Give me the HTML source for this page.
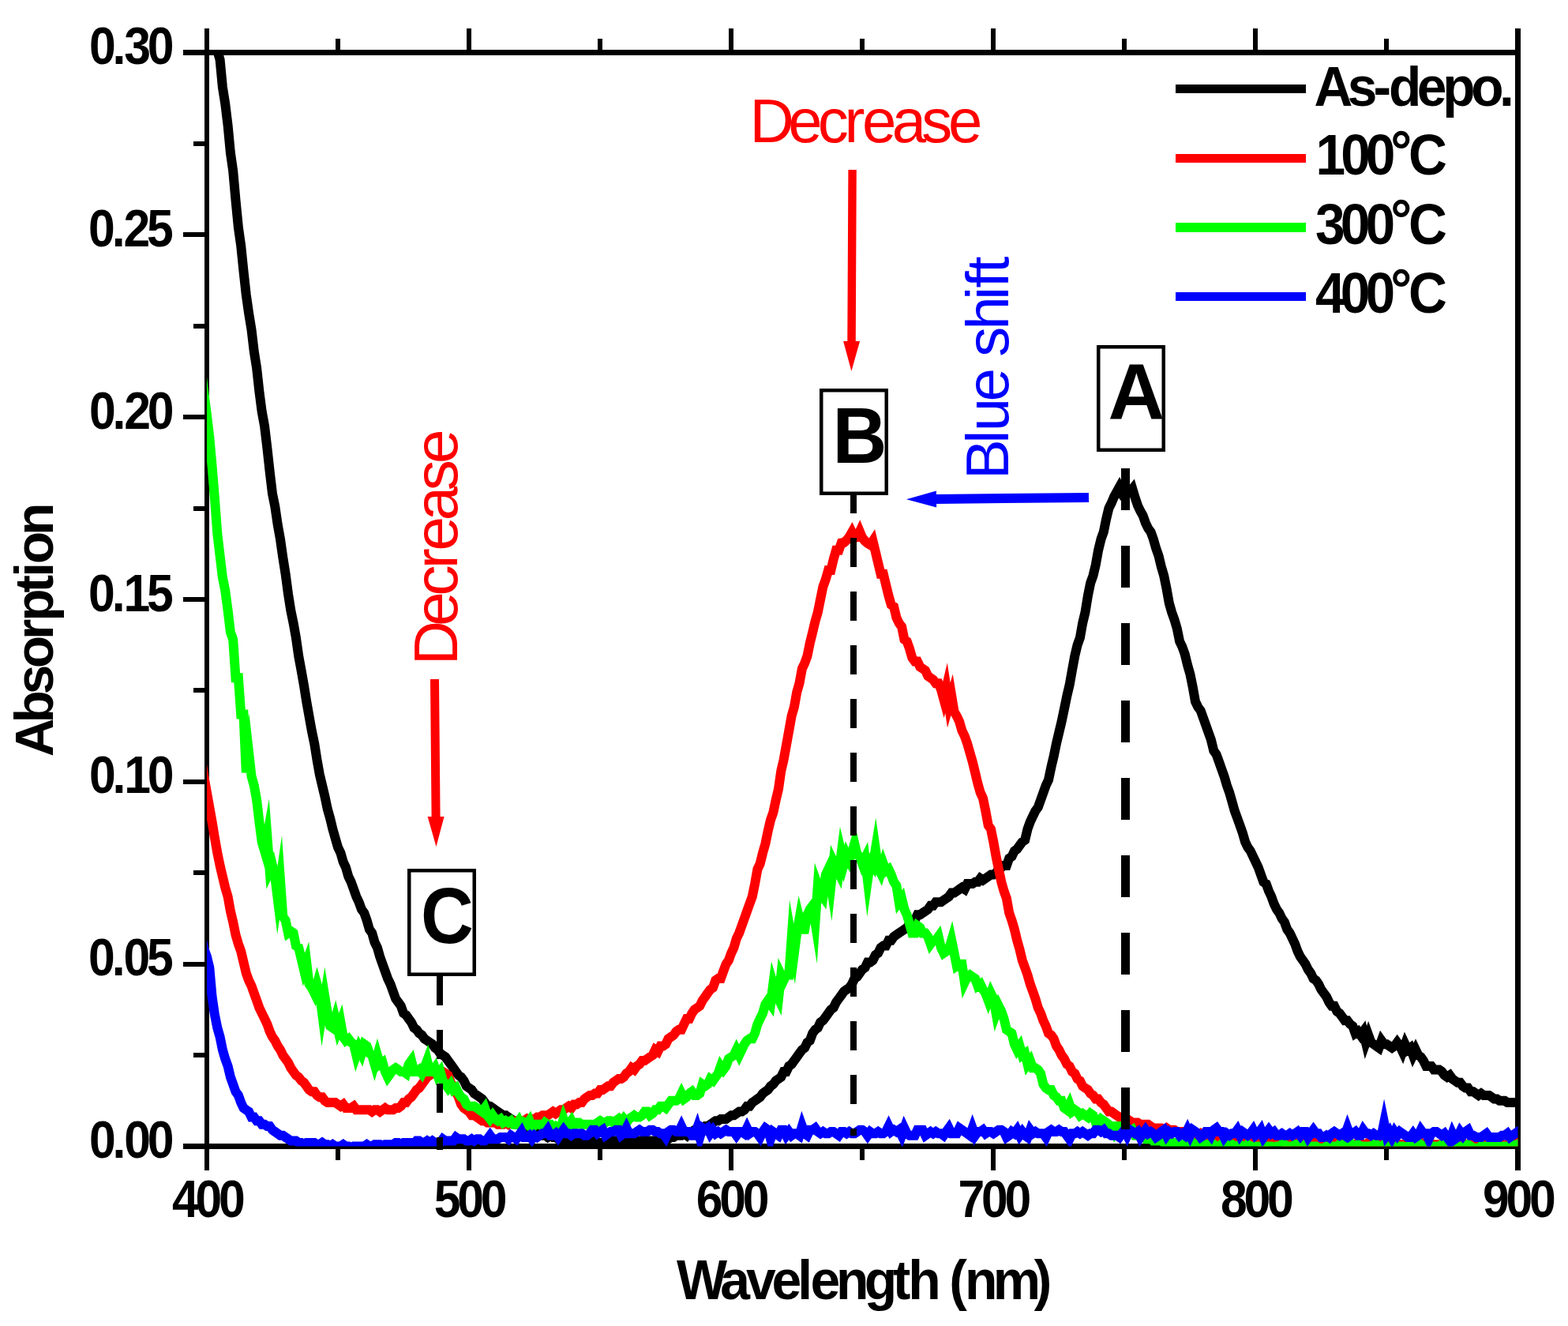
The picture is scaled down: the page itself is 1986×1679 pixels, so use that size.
<!DOCTYPE html>
<html lang="en">
<head>
<meta charset="utf-8">
<title>Absorption spectra</title>
<style>
html,body{margin:0;padding:0;background:#fff;}
body{width:1986px;height:1679px;overflow:hidden;}
svg{display:block;}
svg text{font-family:"Liberation Sans","Arial",sans-serif;white-space:pre;}
</style>
</head>
<body>
<svg width="1986" height="1679" viewBox="0 0 1986 1679">
<rect width="1986" height="1679" fill="#fff"/>
<g fill="#000" shape-rendering="crispEdges">
<rect x="259" y="36" width="6" height="1446"/>
<rect x="1919" y="36" width="7" height="1446"/>
<rect x="232" y="63" width="1694" height="7"/>
<rect x="232" y="1448" width="1694" height="7"/>
<rect x="425" y="49" width="6" height="14"/>
<rect x="425" y="1455" width="6" height="14"/>
<rect x="591" y="36" width="6" height="27"/>
<rect x="591" y="1455" width="6" height="27"/>
<rect x="757" y="49" width="6" height="14"/>
<rect x="757" y="1455" width="6" height="14"/>
<rect x="923" y="36" width="6" height="27"/>
<rect x="923" y="1455" width="6" height="27"/>
<rect x="1089" y="49" width="6" height="14"/>
<rect x="1089" y="1455" width="6" height="14"/>
<rect x="1255" y="36" width="6" height="27"/>
<rect x="1255" y="1455" width="6" height="27"/>
<rect x="1421" y="49" width="6" height="14"/>
<rect x="1421" y="1455" width="6" height="14"/>
<rect x="1587" y="36" width="6" height="27"/>
<rect x="1587" y="1455" width="6" height="27"/>
<rect x="1753" y="49" width="6" height="14"/>
<rect x="1753" y="1455" width="6" height="14"/>
<rect x="245" y="1333" width="14" height="6"/>
<rect x="232" y="1218" width="27" height="6"/>
<rect x="245" y="1102" width="14" height="6"/>
<rect x="232" y="987" width="27" height="6"/>
<rect x="245" y="871" width="14" height="6"/>
<rect x="232" y="756" width="27" height="6"/>
<rect x="245" y="641" width="14" height="6"/>
<rect x="232" y="525" width="27" height="6"/>
<rect x="245" y="410" width="14" height="6"/>
<rect x="232" y="294" width="27" height="6"/>
<rect x="245" y="179" width="14" height="6"/>
</g>
<clipPath id="plotclip"><rect x="262" y="66.5" width="1660.5" height="1385"/></clipPath>
<g clip-path="url(#plotclip)" fill="none" stroke-linejoin="miter" stroke-miterlimit="10" stroke-linecap="butt">
<path stroke="#000000" stroke-width="12" d="M248.7 -104.3 L252.0 -74.3 L255.4 -62.8 L258.7 -42.0 L262.0 -21.2 L265.3 -2.7 L268.6 15.7 L272.0 43.4 L275.3 64.2 L278.6 75.7 L281.9 110.4 L285.2 131.1 L288.6 158.8 L291.9 193.5 L295.2 216.5 L298.5 253.5 L301.9 288.1 L305.2 311.2 L308.5 343.5 L311.8 373.5 L315.1 396.6 L318.5 417.4 L321.8 445.1 L325.1 465.8 L328.4 495.9 L331.7 521.2 L335.1 539.7 L338.4 567.4 L341.7 597.4 L345.0 625.1 L348.3 641.3 L351.7 664.4 L355.0 682.8 L358.3 705.9 L361.6 726.7 L365.0 752.1 L368.3 772.9 L371.6 789.0 L374.9 807.5 L378.2 830.6 L381.6 849.0 L384.9 867.5 L388.2 888.3 L391.5 906.7 L394.8 925.2 L398.2 941.4 L401.5 962.1 L404.8 980.6 L408.1 994.5 L411.4 1008.3 L414.8 1024.5 L418.1 1036.0 L421.4 1049.8 L424.7 1061.4 L428.0 1072.9 L431.4 1079.9 L434.7 1091.4 L438.0 1098.3 L441.3 1109.9 L444.7 1116.8 L448.0 1126.0 L451.3 1135.3 L454.6 1142.2 L457.9 1151.4 L461.3 1156.0 L464.6 1165.3 L467.9 1176.8 L471.2 1181.4 L474.5 1193.0 L477.9 1199.9 L481.2 1211.4 L484.5 1220.7 L487.8 1229.9 L491.1 1239.1 L494.5 1246.1 L497.8 1255.3 L501.1 1264.5 L504.4 1269.1 L507.8 1273.8 L511.1 1283.0 L514.4 1285.3 L517.7 1289.9 L521.0 1294.5 L524.4 1301.5 L527.7 1303.8 L531.0 1308.4 L534.3 1310.7 L537.6 1315.3 L541.0 1317.6 L544.3 1319.9 L547.6 1322.2 L550.9 1326.8 L554.2 1329.2 L557.6 1333.8 L560.9 1336.1 L564.2 1338.4 L567.5 1343.0 L570.9 1347.6 L574.2 1352.2 L577.5 1356.9 L580.8 1361.5 L584.1 1363.8 L587.5 1368.4 L590.8 1375.3 L594.1 1377.6 L597.4 1379.9 L600.7 1384.6 L604.1 1386.9 L607.4 1389.2 L610.7 1391.5 L614.0 1396.1 L617.3 1400.7 L620.7 1400.7 L624.0 1403.0 L627.3 1405.3 L630.6 1407.6 L634.0 1410.0 L637.3 1412.3 L640.6 1412.3 L643.9 1414.6 L647.2 1416.9 L650.6 1419.2 L653.9 1423.8 L657.2 1423.8 L660.5 1426.1 L663.8 1428.4 L667.2 1428.4 L670.5 1430.7 L673.8 1430.7 L677.1 1433.0 L680.4 1435.3 L683.8 1435.3 L687.1 1437.7 L690.4 1437.7 L693.7 1440.0 L697.1 1437.7 L700.4 1440.0 L703.7 1440.0 L707.0 1442.3 L710.3 1442.3 L713.7 1442.3 L717.0 1442.3 L720.3 1442.3 L723.6 1442.3 L726.9 1444.6 L730.3 1444.6 L733.6 1444.6 L736.9 1444.6 L740.2 1444.6 L743.5 1444.6 L746.9 1444.6 L750.2 1446.9 L753.5 1444.6 L756.8 1446.9 L760.1 1446.9 L763.5 1446.9 L766.8 1444.6 L770.1 1444.6 L773.4 1444.6 L776.8 1444.6 L780.1 1444.6 L783.4 1444.6 L786.7 1444.6 L790.0 1444.6 L793.4 1444.6 L796.7 1444.6 L800.0 1444.6 L803.3 1444.6 L806.6 1446.9 L810.0 1444.6 L813.3 1444.6 L816.6 1444.6 L819.9 1444.6 L823.2 1444.6 L826.6 1444.6 L829.9 1444.6 L833.2 1442.3 L836.5 1442.3 L839.9 1442.3 L843.2 1442.3 L846.5 1442.3 L849.8 1440.0 L853.1 1440.0 L856.5 1437.7 L859.8 1437.7 L863.1 1437.7 L866.4 1435.3 L869.7 1437.7 L873.1 1433.0 L876.4 1433.0 L879.7 1430.7 L883.0 1430.7 L886.3 1428.4 L889.7 1428.4 L893.0 1426.1 L896.3 1426.1 L899.6 1423.8 L903.0 1421.5 L906.3 1419.2 L909.6 1419.2 L912.9 1416.9 L916.2 1416.9 L919.6 1416.9 L922.9 1414.6 L926.2 1412.3 L929.5 1412.3 L932.8 1410.0 L936.2 1407.6 L939.5 1407.6 L942.8 1405.3 L946.1 1400.7 L949.4 1400.7 L952.8 1396.1 L956.1 1393.8 L959.4 1391.5 L962.7 1389.2 L966.1 1384.6 L969.4 1382.2 L972.7 1379.9 L976.0 1375.3 L979.3 1373.0 L982.7 1368.4 L986.0 1366.1 L989.3 1363.8 L992.6 1356.9 L995.9 1356.9 L999.3 1349.9 L1002.6 1347.6 L1005.9 1343.0 L1009.2 1338.4 L1012.5 1333.8 L1015.9 1329.2 L1019.2 1326.8 L1022.5 1319.9 L1025.8 1317.6 L1029.2 1308.4 L1032.5 1303.8 L1035.8 1301.5 L1039.1 1294.5 L1042.4 1292.2 L1045.8 1287.6 L1049.1 1283.0 L1052.4 1278.4 L1055.7 1276.1 L1059.0 1269.1 L1062.4 1264.5 L1065.7 1259.9 L1069.0 1255.3 L1072.3 1253.0 L1075.6 1250.7 L1079.0 1246.1 L1082.3 1239.1 L1085.6 1236.8 L1088.9 1232.2 L1092.2 1227.6 L1095.6 1225.3 L1098.9 1218.4 L1102.2 1218.4 L1105.5 1216.0 L1108.9 1209.1 L1112.2 1206.8 L1115.5 1199.9 L1118.8 1197.6 L1122.1 1197.6 L1125.5 1190.7 L1128.8 1190.7 L1132.1 1186.0 L1135.4 1183.7 L1138.7 1181.4 L1142.1 1179.1 L1145.4 1176.8 L1148.7 1174.5 L1152.0 1169.9 L1155.3 1169.9 L1158.7 1165.3 L1162.0 1158.3 L1165.3 1158.3 L1168.6 1156.0 L1172.0 1153.7 L1175.3 1151.4 L1178.6 1146.8 L1181.9 1146.8 L1185.2 1142.2 L1188.6 1142.2 L1191.9 1142.2 L1195.2 1139.9 L1198.5 1137.6 L1201.8 1135.3 L1205.2 1130.6 L1208.5 1130.6 L1211.8 1128.3 L1215.1 1126.0 L1218.4 1123.7 L1221.8 1126.0 L1225.1 1119.1 L1228.4 1119.1 L1231.7 1119.1 L1235.1 1116.8 L1238.4 1116.8 L1241.7 1112.2 L1245.0 1114.5 L1248.3 1112.2 L1251.7 1109.9 L1255.0 1107.6 L1258.3 1107.6 L1261.6 1105.2 L1264.9 1100.6 L1268.3 1098.3 L1271.6 1096.0 L1274.9 1096.0 L1278.2 1086.8 L1281.5 1084.5 L1284.9 1077.5 L1288.2 1075.2 L1291.5 1070.6 L1294.8 1066.0 L1298.2 1063.7 L1301.5 1049.8 L1304.8 1040.6 L1308.1 1033.7 L1311.4 1026.8 L1314.8 1022.2 L1318.1 1012.9 L1321.4 1003.7 L1324.7 994.5 L1328.0 987.5 L1331.4 971.4 L1334.7 957.5 L1338.0 941.4 L1341.3 927.5 L1344.6 913.7 L1348.0 897.5 L1351.3 881.3 L1354.6 867.5 L1357.9 849.0 L1361.3 830.6 L1364.6 816.7 L1367.9 807.5 L1371.2 789.0 L1374.5 775.2 L1377.9 754.4 L1381.2 738.2 L1384.5 729.0 L1387.8 715.1 L1391.1 696.7 L1394.5 682.8 L1397.8 673.6 L1401.1 657.4 L1404.4 643.6 L1407.7 637.0 L1411.1 629.0 L1414.4 623.0 L1417.7 617.0 L1421.0 624.0 L1424.3 621.0 L1427.7 625.0 L1431.0 623.0 L1434.3 619.0 L1437.6 630.0 L1441.0 640.0 L1444.3 647.0 L1447.6 652.8 L1450.9 662.1 L1454.2 669.0 L1457.6 673.6 L1460.9 682.8 L1464.2 694.4 L1467.5 703.6 L1470.8 717.5 L1474.2 729.0 L1477.5 745.2 L1480.8 763.6 L1484.1 775.2 L1487.4 784.4 L1490.8 795.9 L1494.1 812.1 L1497.4 819.0 L1500.7 828.2 L1504.1 842.1 L1507.4 853.6 L1510.7 869.8 L1514.0 888.3 L1517.3 895.2 L1520.7 899.8 L1524.0 909.0 L1527.3 918.3 L1530.6 927.5 L1533.9 936.7 L1537.3 950.6 L1540.6 955.2 L1543.9 964.4 L1547.2 973.7 L1550.5 982.9 L1553.9 994.5 L1557.2 1003.7 L1560.5 1015.2 L1563.8 1026.8 L1567.2 1036.0 L1570.5 1045.2 L1573.8 1054.5 L1577.1 1066.0 L1580.4 1072.9 L1583.8 1077.5 L1587.1 1084.5 L1590.4 1091.4 L1593.7 1098.3 L1597.0 1107.6 L1600.4 1116.8 L1603.7 1119.1 L1607.0 1128.3 L1610.3 1135.3 L1613.6 1144.5 L1617.0 1151.4 L1620.3 1156.0 L1623.6 1163.0 L1626.9 1167.6 L1630.3 1176.8 L1633.6 1181.4 L1636.9 1188.3 L1640.2 1195.3 L1643.5 1204.5 L1646.9 1211.4 L1650.2 1216.0 L1653.5 1220.7 L1656.8 1227.6 L1660.1 1232.2 L1663.5 1239.1 L1666.8 1241.4 L1670.1 1246.1 L1673.4 1253.0 L1676.7 1257.6 L1680.1 1262.2 L1683.4 1269.1 L1686.7 1273.8 L1690.0 1273.8 L1693.4 1280.7 L1696.7 1283.0 L1700.0 1287.6 L1703.3 1292.2 L1706.6 1292.2 L1710.0 1296.8 L1713.3 1299.2 L1716.6 1308.4 L1719.9 1306.1 L1723.2 1310.7 L1726.6 1306.1 L1729.9 1319.9 L1733.2 1310.7 L1736.5 1319.9 L1739.8 1322.2 L1743.2 1324.5 L1746.5 1326.8 L1749.8 1317.6 L1753.1 1322.2 L1756.4 1322.2 L1759.8 1324.5 L1763.1 1326.8 L1766.4 1324.5 L1769.7 1319.9 L1773.1 1324.5 L1776.4 1331.5 L1779.7 1322.2 L1783.0 1329.2 L1786.3 1326.8 L1789.7 1336.1 L1793.0 1329.2 L1796.3 1336.1 L1799.6 1338.4 L1802.9 1343.0 L1806.3 1349.9 L1809.6 1349.9 L1812.9 1349.9 L1816.2 1354.5 L1819.5 1354.5 L1822.9 1354.5 L1826.2 1356.9 L1829.5 1361.5 L1832.8 1363.8 L1836.2 1361.5 L1839.5 1366.1 L1842.8 1368.4 L1846.1 1370.7 L1849.4 1370.7 L1852.8 1375.3 L1856.1 1377.6 L1859.4 1377.6 L1862.7 1382.2 L1866.0 1382.2 L1869.4 1384.6 L1872.7 1386.9 L1876.0 1384.6 L1879.3 1386.9 L1882.6 1386.9 L1886.0 1386.9 L1889.3 1389.2 L1892.6 1391.5 L1895.9 1391.5 L1899.3 1393.8 L1902.6 1393.8 L1905.9 1393.8 L1909.2 1396.1 L1912.5 1396.1 L1915.9 1396.1 L1919.2 1396.1 L1922.5 1396.1 L1925.8 1398.4 L1929.1 1398.4"/>
<path stroke="#ff0000" stroke-width="12" d="M248.7 927.5 L252.0 946.0 L255.4 964.4 L258.7 985.2 L262.0 1003.7 L265.3 1022.2 L268.6 1040.6 L272.0 1061.4 L275.3 1079.9 L278.6 1096.0 L281.9 1109.9 L285.2 1123.7 L288.6 1135.3 L291.9 1153.7 L295.2 1167.6 L298.5 1183.7 L301.9 1195.3 L305.2 1204.5 L308.5 1218.4 L311.8 1232.2 L315.1 1241.4 L318.5 1248.4 L321.8 1257.6 L325.1 1266.8 L328.4 1276.1 L331.7 1283.0 L335.1 1289.9 L338.4 1296.8 L341.7 1306.1 L345.0 1313.0 L348.3 1317.6 L351.7 1324.5 L355.0 1329.2 L358.3 1336.1 L361.6 1340.7 L365.0 1345.3 L368.3 1352.2 L371.6 1356.9 L374.9 1361.5 L378.2 1363.8 L381.6 1368.4 L384.9 1370.7 L388.2 1375.3 L391.5 1379.9 L394.8 1382.2 L398.2 1382.2 L401.5 1386.9 L404.8 1389.2 L408.1 1389.2 L411.4 1393.8 L414.8 1396.1 L418.1 1396.1 L421.4 1396.1 L424.7 1396.1 L428.0 1398.4 L431.4 1400.7 L434.7 1398.4 L438.0 1403.0 L441.3 1403.0 L444.7 1403.0 L448.0 1400.7 L451.3 1405.3 L454.6 1405.3 L457.9 1405.3 L461.3 1405.3 L464.6 1405.3 L467.9 1405.3 L471.2 1407.6 L474.5 1405.3 L477.9 1405.3 L481.2 1407.6 L484.5 1405.3 L487.8 1403.0 L491.1 1405.3 L494.5 1405.3 L497.8 1405.3 L501.1 1403.0 L504.4 1403.0 L507.8 1400.7 L511.1 1396.1 L514.4 1396.1 L517.7 1391.5 L521.0 1389.2 L524.4 1384.6 L527.7 1379.9 L531.0 1377.6 L534.3 1373.0 L537.6 1368.4 L541.0 1363.8 L544.3 1361.5 L547.6 1359.2 L550.9 1356.9 L554.2 1356.9 L557.6 1356.9 L560.9 1356.9 L564.2 1359.2 L567.5 1361.5 L570.9 1370.7 L574.2 1377.6 L577.5 1382.2 L580.8 1389.2 L584.1 1398.4 L587.5 1403.0 L590.8 1405.3 L594.1 1407.6 L597.4 1412.3 L600.7 1412.3 L604.1 1414.6 L607.4 1416.9 L610.7 1419.2 L614.0 1419.2 L617.3 1421.5 L620.7 1421.5 L624.0 1421.5 L627.3 1421.5 L630.6 1423.8 L634.0 1423.8 L637.3 1423.8 L640.6 1421.5 L643.9 1423.8 L647.2 1421.5 L650.6 1421.5 L653.9 1419.2 L657.2 1419.2 L660.5 1419.2 L663.8 1419.2 L667.2 1416.9 L670.5 1419.2 L673.8 1416.9 L677.1 1416.9 L680.4 1414.6 L683.8 1414.6 L687.1 1412.3 L690.4 1412.3 L693.7 1412.3 L697.1 1410.0 L700.4 1407.6 L703.7 1410.0 L707.0 1407.6 L710.3 1405.3 L713.7 1405.3 L717.0 1403.0 L720.3 1400.7 L723.6 1403.0 L726.9 1398.4 L730.3 1398.4 L733.6 1396.1 L736.9 1396.1 L740.2 1391.5 L743.5 1389.2 L746.9 1386.9 L750.2 1386.9 L753.5 1384.6 L756.8 1384.6 L760.1 1379.9 L763.5 1379.9 L766.8 1377.6 L770.1 1375.3 L773.4 1375.3 L776.8 1370.7 L780.1 1368.4 L783.4 1366.1 L786.7 1366.1 L790.0 1363.8 L793.4 1359.2 L796.7 1356.9 L800.0 1352.2 L803.3 1354.5 L806.6 1349.9 L810.0 1347.6 L813.3 1343.0 L816.6 1343.0 L819.9 1340.7 L823.2 1338.4 L826.6 1336.1 L829.9 1329.2 L833.2 1331.5 L836.5 1324.5 L839.9 1324.5 L843.2 1322.2 L846.5 1315.3 L849.8 1313.0 L853.1 1310.7 L856.5 1306.1 L859.8 1303.8 L863.1 1303.8 L866.4 1296.8 L869.7 1289.9 L873.1 1289.9 L876.4 1283.0 L879.7 1278.4 L883.0 1276.1 L886.3 1273.8 L889.7 1266.8 L893.0 1262.2 L896.3 1257.6 L899.6 1253.0 L903.0 1250.7 L906.3 1241.4 L909.6 1239.1 L912.9 1239.1 L916.2 1229.9 L919.6 1220.7 L922.9 1216.0 L926.2 1206.8 L929.5 1199.9 L932.8 1188.3 L936.2 1181.4 L939.5 1172.2 L942.8 1163.0 L946.1 1153.7 L949.4 1144.5 L952.8 1135.3 L956.1 1119.1 L959.4 1100.6 L962.7 1093.7 L966.1 1079.9 L969.4 1068.3 L972.7 1052.2 L976.0 1038.3 L979.3 1029.1 L982.7 1012.9 L986.0 999.1 L989.3 976.0 L992.6 962.1 L995.9 943.7 L999.3 925.2 L1002.6 906.7 L1005.9 895.2 L1009.2 876.7 L1012.5 865.2 L1015.9 846.7 L1019.2 839.8 L1022.5 830.6 L1025.8 814.4 L1029.2 800.6 L1032.5 786.7 L1035.8 775.2 L1039.1 759.0 L1042.4 742.8 L1045.8 733.6 L1049.1 722.1 L1052.4 722.1 L1055.7 708.2 L1059.0 696.7 L1062.4 696.7 L1065.7 687.4 L1069.0 687.0 L1072.3 684.0 L1075.6 680.0 L1079.0 674.0 L1082.3 681.0 L1085.6 680.0 L1088.9 673.0 L1092.2 681.0 L1095.6 685.0 L1098.9 688.0 L1102.2 690.0 L1105.5 685.0 L1108.9 699.0 L1112.2 712.8 L1115.5 726.7 L1118.8 726.7 L1122.1 740.5 L1125.5 754.4 L1128.8 765.9 L1132.1 768.2 L1135.4 782.1 L1138.7 789.0 L1142.1 793.6 L1145.4 809.8 L1148.7 812.1 L1152.0 821.3 L1155.3 832.9 L1158.7 837.5 L1162.0 837.5 L1165.3 844.4 L1168.6 846.7 L1172.0 849.0 L1175.3 856.0 L1178.6 858.3 L1181.9 860.6 L1185.2 865.2 L1188.6 865.2 L1191.9 873.0 L1195.2 885.0 L1198.5 871.0 L1201.8 893.0 L1205.2 881.0 L1208.5 901.0 L1211.8 906.7 L1215.1 913.7 L1218.4 925.2 L1221.8 932.1 L1225.1 941.4 L1228.4 952.9 L1231.7 964.4 L1235.1 978.3 L1238.4 992.1 L1241.7 1003.7 L1245.0 1010.6 L1248.3 1026.8 L1251.7 1045.2 L1255.0 1049.8 L1258.3 1066.0 L1261.6 1084.5 L1264.9 1100.6 L1268.3 1116.8 L1271.6 1128.3 L1274.9 1137.6 L1278.2 1156.0 L1281.5 1165.3 L1284.9 1176.8 L1288.2 1190.7 L1291.5 1202.2 L1294.8 1216.0 L1298.2 1225.3 L1301.5 1234.5 L1304.8 1246.1 L1308.1 1255.3 L1311.4 1264.5 L1314.8 1276.1 L1318.1 1283.0 L1321.4 1292.2 L1324.7 1299.2 L1328.0 1308.4 L1331.4 1310.7 L1334.7 1315.3 L1338.0 1324.5 L1341.3 1329.2 L1344.6 1336.1 L1348.0 1340.7 L1351.3 1347.6 L1354.6 1349.9 L1357.9 1356.9 L1361.3 1359.2 L1364.6 1366.1 L1367.9 1368.4 L1371.2 1375.3 L1374.5 1377.6 L1377.9 1379.9 L1381.2 1384.6 L1384.5 1386.9 L1387.8 1391.5 L1391.1 1391.5 L1394.5 1396.1 L1397.8 1398.4 L1401.1 1403.0 L1404.4 1407.6 L1407.7 1407.6 L1411.1 1410.0 L1414.4 1412.3 L1417.7 1414.6 L1421.0 1414.6 L1424.3 1416.9 L1427.7 1416.9 L1431.0 1419.2 L1434.3 1421.5 L1437.6 1421.5 L1441.0 1421.5 L1444.3 1423.8 L1447.6 1423.8 L1450.9 1423.8 L1454.2 1423.8 L1457.6 1426.1 L1460.9 1428.4 L1464.2 1428.4 L1467.5 1428.4 L1470.8 1428.4 L1474.2 1430.7 L1477.5 1428.4 L1480.8 1430.7 L1484.1 1430.7 L1487.4 1430.7 L1490.8 1433.0 L1494.1 1433.0 L1497.4 1433.0 L1500.7 1433.0 L1504.1 1435.3 L1507.4 1435.3 L1510.7 1435.3 L1514.0 1437.7 L1517.3 1437.7 L1520.7 1435.3 L1524.0 1437.7 L1527.3 1437.7 L1530.6 1440.0 L1533.9 1437.7 L1537.3 1440.0 L1540.6 1440.0 L1543.9 1442.3 L1547.2 1440.0 L1550.5 1442.3 L1553.9 1442.3 L1557.2 1442.3 L1560.5 1442.3 L1563.8 1444.6 L1567.2 1442.3 L1570.5 1444.6 L1573.8 1444.6 L1577.1 1444.6 L1580.4 1444.6 L1583.8 1444.6 L1587.1 1444.6 L1590.4 1442.3 L1593.7 1444.6 L1597.0 1446.9 L1600.4 1444.6 L1603.7 1446.9 L1607.0 1444.6 L1610.3 1444.6 L1613.6 1444.6 L1617.0 1444.6 L1620.3 1444.6 L1623.6 1444.6 L1626.9 1446.9 L1630.3 1446.9 L1633.6 1446.9 L1636.9 1444.6 L1640.2 1444.6 L1643.5 1446.9 L1646.9 1444.6 L1650.2 1446.9 L1653.5 1449.2 L1656.8 1449.2 L1660.1 1446.9 L1663.5 1444.6 L1666.8 1446.9 L1670.1 1444.6 L1673.4 1446.9 L1676.7 1449.2 L1680.1 1446.9 L1683.4 1446.9 L1686.7 1446.9 L1690.0 1446.9 L1693.4 1446.9 L1696.7 1449.2 L1700.0 1449.2 L1703.3 1446.9 L1706.6 1446.9 L1710.0 1449.2 L1713.3 1449.2 L1716.6 1449.2 L1719.9 1446.9 L1723.2 1446.9 L1726.6 1449.2 L1729.9 1449.2 L1733.2 1446.9 L1736.5 1449.2 L1739.8 1449.2 L1743.2 1449.2 L1746.5 1446.9 L1749.8 1449.2 L1753.1 1446.9 L1756.4 1449.2 L1759.8 1449.2 L1763.1 1449.2 L1766.4 1449.2 L1769.7 1449.2 L1773.1 1449.2 L1776.4 1449.2 L1779.7 1449.2 L1783.0 1449.2 L1786.3 1451.5 L1789.7 1449.2 L1793.0 1449.2 L1796.3 1449.2 L1799.6 1446.9 L1802.9 1449.2 L1806.3 1449.2 L1809.6 1449.2 L1812.9 1449.2 L1816.2 1449.2 L1819.5 1449.2 L1822.9 1449.2 L1826.2 1449.2 L1829.5 1449.2 L1832.8 1451.5 L1836.2 1449.2 L1839.5 1449.2 L1842.8 1451.5 L1846.1 1446.9 L1849.4 1449.2 L1852.8 1446.9 L1856.1 1449.2 L1859.4 1449.2 L1862.7 1446.9 L1866.0 1449.2 L1869.4 1446.9 L1872.7 1449.2 L1876.0 1449.2 L1879.3 1449.2 L1882.6 1449.2 L1886.0 1449.2 L1889.3 1446.9 L1892.6 1449.2 L1895.9 1449.2 L1899.3 1449.2 L1902.6 1449.2 L1905.9 1451.5 L1909.2 1449.2 L1912.5 1449.2 L1915.9 1446.9 L1919.2 1449.2 L1922.5 1446.9 L1925.8 1449.2 L1929.1 1449.2"/>
<path stroke="#00ff00" stroke-width="12" d="M248.7 419.7 L252.0 447.4 L255.4 472.8 L258.7 500.5 L262.0 525.9 L265.3 553.6 L268.6 590.5 L272.0 632.0 L275.3 675.9 L278.6 703.6 L281.9 731.3 L285.2 747.5 L288.6 772.9 L291.9 800.6 L295.2 809.8 L298.5 858.3 L301.9 858.3 L305.2 904.4 L308.5 904.4 L311.8 978.3 L315.1 952.9 L318.5 982.9 L321.8 994.5 L325.1 1012.9 L328.4 1040.6 L331.7 1066.0 L335.1 1077.5 L338.4 1059.1 L341.7 1102.9 L345.0 1096.0 L348.3 1109.9 L351.7 1137.6 L355.0 1114.5 L358.3 1160.7 L361.6 1165.3 L365.0 1181.4 L368.3 1179.1 L371.6 1181.4 L374.9 1197.6 L378.2 1199.9 L381.6 1213.7 L384.9 1227.6 L388.2 1218.4 L391.5 1246.1 L394.8 1250.7 L398.2 1257.6 L401.5 1246.1 L404.8 1257.6 L408.1 1283.0 L411.4 1262.2 L414.8 1283.0 L418.1 1299.2 L421.4 1301.5 L424.7 1289.9 L428.0 1303.8 L431.4 1294.5 L434.7 1313.0 L438.0 1317.6 L441.3 1315.3 L444.7 1319.9 L448.0 1322.2 L451.3 1336.1 L454.6 1326.8 L457.9 1333.8 L461.3 1322.2 L464.6 1324.5 L467.9 1333.8 L471.2 1336.1 L474.5 1347.6 L477.9 1336.1 L481.2 1347.6 L484.5 1345.3 L487.8 1356.9 L491.1 1363.8 L494.5 1359.2 L497.8 1354.5 L501.1 1352.2 L504.4 1354.5 L507.8 1356.9 L511.1 1356.9 L514.4 1359.2 L517.7 1347.6 L521.0 1343.0 L524.4 1356.9 L527.7 1356.9 L531.0 1354.5 L534.3 1359.2 L537.6 1352.2 L541.0 1343.0 L544.3 1356.9 L547.6 1356.9 L550.9 1352.2 L554.2 1361.5 L557.6 1356.9 L560.9 1368.4 L564.2 1373.0 L567.5 1377.6 L570.9 1373.0 L574.2 1379.9 L577.5 1377.6 L580.8 1384.6 L584.1 1389.2 L587.5 1391.5 L590.8 1398.4 L594.1 1400.7 L597.4 1400.7 L600.7 1400.7 L604.1 1403.0 L607.4 1405.3 L610.7 1407.6 L614.0 1403.0 L617.3 1412.3 L620.7 1416.9 L624.0 1412.3 L627.3 1416.9 L630.6 1419.2 L634.0 1416.9 L637.3 1421.5 L640.6 1419.2 L643.9 1421.5 L647.2 1419.2 L650.6 1423.8 L653.9 1423.8 L657.2 1419.2 L660.5 1426.1 L663.8 1421.5 L667.2 1423.8 L670.5 1419.2 L673.8 1428.4 L677.1 1423.8 L680.4 1423.8 L683.8 1423.8 L687.1 1426.1 L690.4 1421.5 L693.7 1423.8 L697.1 1423.8 L700.4 1428.4 L703.7 1426.1 L707.0 1428.4 L710.3 1428.4 L713.7 1416.9 L717.0 1426.1 L720.3 1423.8 L723.6 1419.2 L726.9 1426.1 L730.3 1421.5 L733.6 1421.5 L736.9 1423.8 L740.2 1423.8 L743.5 1423.8 L746.9 1423.8 L750.2 1423.8 L753.5 1428.4 L756.8 1421.5 L760.1 1419.2 L763.5 1421.5 L766.8 1421.5 L770.1 1419.2 L773.4 1419.2 L776.8 1421.5 L780.1 1419.2 L783.4 1416.9 L786.7 1421.5 L790.0 1416.9 L793.4 1421.5 L796.7 1416.9 L800.0 1414.6 L803.3 1412.3 L806.6 1414.6 L810.0 1414.6 L813.3 1412.3 L816.6 1407.6 L819.9 1407.6 L823.2 1412.3 L826.6 1410.0 L829.9 1405.3 L833.2 1405.3 L836.5 1400.7 L839.9 1400.7 L843.2 1403.0 L846.5 1398.4 L849.8 1393.8 L853.1 1393.8 L856.5 1393.8 L859.8 1391.5 L863.1 1384.6 L866.4 1391.5 L869.7 1389.2 L873.1 1384.6 L876.4 1382.2 L879.7 1386.9 L883.0 1386.9 L886.3 1384.6 L889.7 1373.0 L893.0 1375.3 L896.3 1373.0 L899.6 1366.1 L903.0 1368.4 L906.3 1363.8 L909.6 1359.2 L912.9 1349.9 L916.2 1354.5 L919.6 1349.9 L922.9 1340.7 L926.2 1338.4 L929.5 1336.1 L932.8 1329.2 L936.2 1336.1 L939.5 1329.2 L942.8 1322.2 L946.1 1317.6 L949.4 1315.3 L952.8 1315.3 L956.1 1308.4 L959.4 1296.8 L962.7 1289.9 L966.1 1283.0 L969.4 1271.5 L972.7 1266.8 L976.0 1271.5 L979.3 1246.1 L982.7 1257.6 L986.0 1264.5 L989.3 1234.5 L992.6 1241.4 L995.9 1234.5 L999.3 1234.5 L1002.6 1188.3 L1005.9 1206.8 L1009.2 1181.4 L1012.5 1163.0 L1015.9 1176.8 L1019.2 1176.8 L1022.5 1158.3 L1025.8 1151.4 L1029.2 1146.8 L1032.5 1167.6 L1035.8 1121.4 L1039.1 1130.6 L1042.4 1135.3 L1045.8 1107.6 L1049.1 1100.6 L1052.4 1121.4 L1055.7 1091.4 L1059.0 1098.3 L1062.4 1105.2 L1065.7 1079.9 L1069.0 1093.7 L1072.3 1082.2 L1075.6 1089.1 L1079.0 1079.9 L1082.3 1068.3 L1085.6 1082.2 L1088.9 1084.5 L1092.2 1093.7 L1095.6 1086.8 L1098.9 1114.5 L1102.2 1091.4 L1105.5 1096.0 L1108.9 1075.2 L1112.2 1098.3 L1115.5 1105.2 L1118.8 1093.7 L1122.1 1102.9 L1125.5 1100.6 L1128.8 1107.6 L1132.1 1116.8 L1135.4 1121.4 L1138.7 1142.2 L1142.1 1137.6 L1145.4 1151.4 L1148.7 1158.3 L1152.0 1169.9 L1155.3 1181.4 L1158.7 1181.4 L1162.0 1172.2 L1165.3 1174.5 L1168.6 1181.4 L1172.0 1181.4 L1175.3 1186.0 L1178.6 1195.3 L1181.9 1190.7 L1185.2 1190.7 L1188.6 1186.0 L1191.9 1199.9 L1195.2 1206.8 L1198.5 1204.5 L1201.8 1202.2 L1205.2 1190.7 L1208.5 1206.8 L1211.8 1223.0 L1215.1 1220.7 L1218.4 1220.7 L1221.8 1243.8 L1225.1 1236.8 L1228.4 1234.5 L1231.7 1236.8 L1235.1 1239.1 L1238.4 1248.4 L1241.7 1246.1 L1245.0 1253.0 L1248.3 1257.6 L1251.7 1266.8 L1255.0 1257.6 L1258.3 1264.5 L1261.6 1283.0 L1264.9 1273.8 L1268.3 1280.7 L1271.6 1289.9 L1274.9 1303.8 L1278.2 1306.1 L1281.5 1308.4 L1284.9 1322.2 L1288.2 1329.2 L1291.5 1324.5 L1294.8 1336.1 L1298.2 1333.8 L1301.5 1347.6 L1304.8 1343.0 L1308.1 1352.2 L1311.4 1352.2 L1314.8 1354.5 L1318.1 1359.2 L1321.4 1373.0 L1324.7 1377.6 L1328.0 1379.9 L1331.4 1379.9 L1334.7 1386.9 L1338.0 1389.2 L1341.3 1393.8 L1344.6 1393.8 L1348.0 1403.0 L1351.3 1405.3 L1354.6 1398.4 L1357.9 1407.6 L1361.3 1405.3 L1364.6 1407.6 L1367.9 1412.3 L1371.2 1410.0 L1374.5 1412.3 L1377.9 1414.6 L1381.2 1410.0 L1384.5 1412.3 L1387.8 1421.5 L1391.1 1421.5 L1394.5 1416.9 L1397.8 1419.2 L1401.1 1421.5 L1404.4 1423.8 L1407.7 1426.1 L1411.1 1433.0 L1414.4 1426.1 L1417.7 1426.1 L1421.0 1435.3 L1424.3 1433.0 L1427.7 1430.7 L1431.0 1433.0 L1434.3 1430.7 L1437.6 1437.7 L1441.0 1437.7 L1444.3 1440.0 L1447.6 1440.0 L1450.9 1442.3 L1454.2 1442.3 L1457.6 1440.0 L1460.9 1444.6 L1464.2 1444.6 L1467.5 1444.6 L1470.8 1444.6 L1474.2 1446.9 L1477.5 1444.6 L1480.8 1446.9 L1484.1 1446.9 L1487.4 1446.9 L1490.8 1449.2 L1494.1 1449.2 L1497.4 1449.2 L1500.7 1449.2 L1504.1 1446.9 L1507.4 1449.2 L1510.7 1446.9 L1514.0 1449.2 L1517.3 1449.2 L1520.7 1449.2 L1524.0 1451.5 L1527.3 1449.2 L1530.6 1449.2 L1533.9 1451.5 L1537.3 1449.2 L1540.6 1451.5 L1543.9 1453.8 L1547.2 1449.2 L1550.5 1449.2 L1553.9 1449.2 L1557.2 1449.2 L1560.5 1449.2 L1563.8 1451.5 L1567.2 1451.5 L1570.5 1449.2 L1573.8 1451.5 L1577.1 1453.8 L1580.4 1449.2 L1583.8 1451.5 L1587.1 1451.5 L1590.4 1451.5 L1593.7 1451.5 L1597.0 1451.5 L1600.4 1451.5 L1603.7 1451.5 L1607.0 1451.5 L1610.3 1451.5 L1613.6 1453.8 L1617.0 1451.5 L1620.3 1451.5 L1623.6 1449.2 L1626.9 1449.2 L1630.3 1451.5 L1633.6 1451.5 L1636.9 1453.8 L1640.2 1449.2 L1643.5 1449.2 L1646.9 1453.8 L1650.2 1451.5 L1653.5 1449.2 L1656.8 1451.5 L1660.1 1451.5 L1663.5 1451.5 L1666.8 1451.5 L1670.1 1453.8 L1673.4 1453.8 L1676.7 1453.8 L1680.1 1451.5 L1683.4 1451.5 L1686.7 1451.5 L1690.0 1451.5 L1693.4 1453.8 L1696.7 1449.2 L1700.0 1449.2 L1703.3 1451.5 L1706.6 1449.2 L1710.0 1446.9 L1713.3 1451.5 L1716.6 1451.5 L1719.9 1449.2 L1723.2 1451.5 L1726.6 1451.5 L1729.9 1451.5 L1733.2 1451.5 L1736.5 1451.5 L1739.8 1449.2 L1743.2 1449.2 L1746.5 1451.5 L1749.8 1453.8 L1753.1 1449.2 L1756.4 1451.5 L1759.8 1453.8 L1763.1 1453.8 L1766.4 1451.5 L1769.7 1451.5 L1773.1 1451.5 L1776.4 1451.5 L1779.7 1453.8 L1783.0 1451.5 L1786.3 1451.5 L1789.7 1451.5 L1793.0 1451.5 L1796.3 1451.5 L1799.6 1449.2 L1802.9 1451.5 L1806.3 1451.5 L1809.6 1451.5 L1812.9 1453.8 L1816.2 1451.5 L1819.5 1451.5 L1822.9 1451.5 L1826.2 1449.2 L1829.5 1449.2 L1832.8 1451.5 L1836.2 1451.5 L1839.5 1451.5 L1842.8 1453.8 L1846.1 1453.8 L1849.4 1451.5 L1852.8 1451.5 L1856.1 1451.5 L1859.4 1449.2 L1862.7 1451.5 L1866.0 1453.8 L1869.4 1453.8 L1872.7 1456.1 L1876.0 1451.5 L1879.3 1451.5 L1882.6 1451.5 L1886.0 1451.5 L1889.3 1451.5 L1892.6 1451.5 L1895.9 1451.5 L1899.3 1451.5 L1902.6 1451.5 L1905.9 1451.5 L1909.2 1451.5 L1912.5 1453.8 L1915.9 1449.2 L1919.2 1451.5 L1922.5 1449.2 L1925.8 1451.5 L1929.1 1453.8"/>
<path stroke="#0000ff" stroke-width="12" d="M248.7 1153.7 L252.0 1172.2 L255.4 1188.3 L258.7 1202.2 L262.0 1211.4 L265.3 1225.3 L268.6 1262.2 L272.0 1285.3 L275.3 1301.5 L278.6 1313.0 L281.9 1329.2 L285.2 1340.7 L288.6 1349.9 L291.9 1363.8 L295.2 1373.0 L298.5 1382.2 L301.9 1386.9 L305.2 1396.1 L308.5 1403.0 L311.8 1405.3 L315.1 1407.6 L318.5 1414.6 L321.8 1414.6 L325.1 1419.2 L328.4 1419.2 L331.7 1423.8 L335.1 1423.8 L338.4 1426.1 L341.7 1426.1 L345.0 1430.7 L348.3 1433.0 L351.7 1435.3 L355.0 1437.7 L358.3 1437.7 L361.6 1440.0 L365.0 1442.3 L368.3 1444.6 L371.6 1444.6 L374.9 1444.6 L378.2 1446.9 L381.6 1446.9 L384.9 1449.2 L388.2 1446.9 L391.5 1446.9 L394.8 1446.9 L398.2 1446.9 L401.5 1449.2 L404.8 1449.2 L408.1 1446.9 L411.4 1449.2 L414.8 1449.2 L418.1 1451.5 L421.4 1449.2 L424.7 1451.5 L428.0 1451.5 L431.4 1451.5 L434.7 1449.2 L438.0 1451.5 L441.3 1451.5 L444.7 1453.8 L448.0 1451.5 L451.3 1451.5 L454.6 1451.5 L457.9 1451.5 L461.3 1451.5 L464.6 1449.2 L467.9 1451.5 L471.2 1451.5 L474.5 1449.2 L477.9 1449.2 L481.2 1449.2 L484.5 1451.5 L487.8 1449.2 L491.1 1449.2 L494.5 1449.2 L497.8 1449.2 L501.1 1446.9 L504.4 1446.9 L507.8 1449.2 L511.1 1446.9 L514.4 1446.9 L517.7 1446.9 L521.0 1446.9 L524.4 1449.2 L527.7 1444.6 L531.0 1444.6 L534.3 1446.9 L537.6 1446.9 L541.0 1444.6 L544.3 1446.9 L547.6 1444.6 L550.9 1446.9 L554.2 1446.9 L557.6 1446.9 L560.9 1442.3 L564.2 1444.6 L567.5 1444.6 L570.9 1444.6 L574.2 1444.6 L577.5 1440.0 L580.8 1442.3 L584.1 1442.3 L587.5 1442.3 L590.8 1444.6 L594.1 1444.6 L597.4 1442.3 L600.7 1444.6 L604.1 1442.3 L607.4 1442.3 L610.7 1444.6 L614.0 1444.6 L617.3 1442.3 L620.7 1437.7 L624.0 1442.3 L627.3 1442.3 L630.6 1442.3 L634.0 1440.0 L637.3 1440.0 L640.6 1440.0 L643.9 1442.3 L647.2 1437.7 L650.6 1440.0 L653.9 1442.3 L657.2 1437.7 L660.5 1433.0 L663.8 1440.0 L667.2 1440.0 L670.5 1437.7 L673.8 1442.3 L677.1 1437.7 L680.4 1440.0 L683.8 1437.7 L687.1 1435.3 L690.4 1435.3 L693.7 1430.7 L697.1 1437.7 L700.4 1437.7 L703.7 1435.3 L707.0 1440.0 L710.3 1435.3 L713.7 1430.7 L717.0 1435.3 L720.3 1435.3 L723.6 1437.7 L726.9 1435.3 L730.3 1435.3 L733.6 1435.3 L736.9 1435.3 L740.2 1437.7 L743.5 1437.7 L746.9 1435.3 L750.2 1430.7 L753.5 1430.7 L756.8 1435.3 L760.1 1433.0 L763.5 1430.7 L766.8 1437.7 L770.1 1435.3 L773.4 1433.0 L776.8 1433.0 L780.1 1430.7 L783.4 1430.7 L786.7 1437.7 L790.0 1435.3 L793.4 1428.4 L796.7 1435.3 L800.0 1435.3 L803.3 1435.3 L806.6 1433.0 L810.0 1430.7 L813.3 1433.0 L816.6 1433.0 L819.9 1433.0 L823.2 1430.7 L826.6 1430.7 L829.9 1433.0 L833.2 1433.0 L836.5 1435.3 L839.9 1435.3 L843.2 1440.0 L846.5 1433.0 L849.8 1430.7 L853.1 1430.7 L856.5 1433.0 L859.8 1433.0 L863.1 1426.1 L866.4 1433.0 L869.7 1433.0 L873.1 1433.0 L876.4 1437.7 L879.7 1437.7 L883.0 1428.4 L886.3 1440.0 L889.7 1428.4 L893.0 1430.7 L896.3 1428.4 L899.6 1435.3 L903.0 1430.7 L906.3 1435.3 L909.6 1433.0 L912.9 1435.3 L916.2 1433.0 L919.6 1430.7 L922.9 1433.0 L926.2 1433.0 L929.5 1433.0 L932.8 1437.7 L936.2 1433.0 L939.5 1433.0 L942.8 1435.3 L946.1 1428.4 L949.4 1435.3 L952.8 1433.0 L956.1 1433.0 L959.4 1435.3 L962.7 1440.0 L966.1 1433.0 L969.4 1428.4 L972.7 1430.7 L976.0 1442.3 L979.3 1433.0 L982.7 1435.3 L986.0 1437.7 L989.3 1430.7 L992.6 1430.7 L995.9 1437.7 L999.3 1433.0 L1002.6 1437.7 L1005.9 1435.3 L1009.2 1435.3 L1012.5 1437.7 L1015.9 1426.1 L1019.2 1435.3 L1022.5 1437.7 L1025.8 1430.7 L1029.2 1430.7 L1032.5 1428.4 L1035.8 1433.0 L1039.1 1435.3 L1042.4 1433.0 L1045.8 1435.3 L1049.1 1435.3 L1052.4 1433.0 L1055.7 1433.0 L1059.0 1435.3 L1062.4 1437.7 L1065.7 1433.0 L1069.0 1433.0 L1072.3 1435.3 L1075.6 1433.0 L1079.0 1435.3 L1082.3 1435.3 L1085.6 1433.0 L1088.9 1430.7 L1092.2 1430.7 L1095.6 1433.0 L1098.9 1437.7 L1102.2 1433.0 L1105.5 1435.3 L1108.9 1435.3 L1112.2 1433.0 L1115.5 1435.3 L1118.8 1435.3 L1122.1 1433.0 L1125.5 1426.1 L1128.8 1433.0 L1132.1 1430.7 L1135.4 1433.0 L1138.7 1430.7 L1142.1 1437.7 L1145.4 1428.4 L1148.7 1435.3 L1152.0 1437.7 L1155.3 1437.7 L1158.7 1437.7 L1162.0 1430.7 L1165.3 1430.7 L1168.6 1430.7 L1172.0 1437.7 L1175.3 1435.3 L1178.6 1433.0 L1181.9 1435.3 L1185.2 1433.0 L1188.6 1435.3 L1191.9 1435.3 L1195.2 1437.7 L1198.5 1433.0 L1201.8 1428.4 L1205.2 1435.3 L1208.5 1435.3 L1211.8 1435.3 L1215.1 1428.4 L1218.4 1430.7 L1221.8 1433.0 L1225.1 1435.3 L1228.4 1437.7 L1231.7 1428.4 L1235.1 1437.7 L1238.4 1433.0 L1241.7 1433.0 L1245.0 1430.7 L1248.3 1435.3 L1251.7 1433.0 L1255.0 1433.0 L1258.3 1435.3 L1261.6 1433.0 L1264.9 1430.7 L1268.3 1430.7 L1271.6 1433.0 L1274.9 1440.0 L1278.2 1437.7 L1281.5 1433.0 L1284.9 1435.3 L1288.2 1430.7 L1291.5 1437.7 L1294.8 1433.0 L1298.2 1437.7 L1301.5 1440.0 L1304.8 1430.7 L1308.1 1435.3 L1311.4 1433.0 L1314.8 1435.3 L1318.1 1435.3 L1321.4 1435.3 L1324.7 1440.0 L1328.0 1433.0 L1331.4 1430.7 L1334.7 1433.0 L1338.0 1433.0 L1341.3 1430.7 L1344.6 1433.0 L1348.0 1433.0 L1351.3 1437.7 L1354.6 1442.3 L1357.9 1435.3 L1361.3 1435.3 L1364.6 1433.0 L1367.9 1435.3 L1371.2 1433.0 L1374.5 1435.3 L1377.9 1437.7 L1381.2 1435.3 L1384.5 1435.3 L1387.8 1430.7 L1391.1 1430.7 L1394.5 1433.0 L1397.8 1430.7 L1401.1 1435.3 L1404.4 1435.3 L1407.7 1437.7 L1411.1 1437.7 L1414.4 1437.7 L1417.7 1440.0 L1421.0 1435.3 L1424.3 1430.7 L1427.7 1437.7 L1431.0 1430.7 L1434.3 1433.0 L1437.6 1435.3 L1441.0 1433.0 L1444.3 1440.0 L1447.6 1435.3 L1450.9 1430.7 L1454.2 1435.3 L1457.6 1433.0 L1460.9 1435.3 L1464.2 1440.0 L1467.5 1437.7 L1470.8 1433.0 L1474.2 1430.7 L1477.5 1437.7 L1480.8 1433.0 L1484.1 1435.3 L1487.4 1433.0 L1490.8 1433.0 L1494.1 1437.7 L1497.4 1435.3 L1500.7 1437.7 L1504.1 1430.7 L1507.4 1437.7 L1510.7 1430.7 L1514.0 1433.0 L1517.3 1435.3 L1520.7 1440.0 L1524.0 1437.7 L1527.3 1433.0 L1530.6 1433.0 L1533.9 1437.7 L1537.3 1430.7 L1540.6 1428.4 L1543.9 1433.0 L1547.2 1433.0 L1550.5 1440.0 L1553.9 1435.3 L1557.2 1437.7 L1560.5 1435.3 L1563.8 1435.3 L1567.2 1430.7 L1570.5 1437.7 L1573.8 1433.0 L1577.1 1435.3 L1580.4 1437.7 L1583.8 1435.3 L1587.1 1430.7 L1590.4 1437.7 L1593.7 1435.3 L1597.0 1430.7 L1600.4 1440.0 L1603.7 1435.3 L1607.0 1430.7 L1610.3 1435.3 L1613.6 1433.0 L1617.0 1437.7 L1620.3 1437.7 L1623.6 1435.3 L1626.9 1437.7 L1630.3 1437.7 L1633.6 1435.3 L1636.9 1437.7 L1640.2 1435.3 L1643.5 1433.0 L1646.9 1437.7 L1650.2 1433.0 L1653.5 1433.0 L1656.8 1440.0 L1660.1 1435.3 L1663.5 1430.7 L1666.8 1435.3 L1670.1 1435.3 L1673.4 1440.0 L1676.7 1440.0 L1680.1 1437.7 L1683.4 1440.0 L1686.7 1435.3 L1690.0 1433.0 L1693.4 1435.3 L1696.7 1437.7 L1700.0 1435.3 L1703.3 1437.7 L1706.6 1428.4 L1710.0 1437.7 L1713.3 1435.3 L1716.6 1433.0 L1719.9 1437.7 L1723.2 1437.7 L1726.6 1430.7 L1729.9 1435.3 L1733.2 1435.3 L1736.5 1437.7 L1739.8 1435.3 L1743.2 1437.7 L1746.5 1437.7 L1749.8 1437.6 L1753.1 1421.5 L1756.4 1437.6 L1759.8 1433.0 L1763.1 1440.0 L1766.4 1433.0 L1769.7 1437.7 L1773.1 1433.0 L1776.4 1435.3 L1779.7 1437.7 L1783.0 1440.0 L1786.3 1440.0 L1789.7 1435.3 L1793.0 1440.0 L1796.3 1437.7 L1799.6 1430.7 L1802.9 1435.3 L1806.3 1435.3 L1809.6 1442.3 L1812.9 1435.3 L1816.2 1433.0 L1819.5 1433.0 L1822.9 1435.3 L1826.2 1437.7 L1829.5 1435.3 L1832.8 1440.0 L1836.2 1444.6 L1839.5 1435.3 L1842.8 1442.3 L1846.1 1440.0 L1849.4 1433.0 L1852.8 1437.7 L1856.1 1433.0 L1859.4 1430.7 L1862.7 1437.7 L1866.0 1437.7 L1869.4 1440.0 L1872.7 1440.0 L1876.0 1440.0 L1879.3 1437.7 L1882.6 1435.3 L1886.0 1440.0 L1889.3 1440.0 L1892.6 1440.0 L1895.9 1440.0 L1899.3 1440.0 L1902.6 1437.7 L1905.9 1437.7 L1909.2 1435.3 L1912.5 1440.0 L1915.9 1437.7 L1919.2 1435.3 L1922.5 1433.0 L1925.8 1430.7 L1929.1 1442.3"/>
</g>
<g stroke="#000" fill="none">
<line x1="557" y1="1236" x2="557" y2="1456" stroke-width="8" stroke-dasharray="37 31"/>
<line x1="1081" y1="613" x2="1081" y2="1438" stroke-width="8" stroke-dasharray="37 31"/>
<line x1="1425.5" y1="593" x2="1425.5" y2="1430" stroke-width="11" stroke-dasharray="53 45"/>
</g>
<rect x="518.25" y="1102.25" width="82.50" height="131.50" fill="#fff" stroke="#000" stroke-width="4.5"/>
<rect x="1040.25" y="494.25" width="82.50" height="130.50" fill="#fff" stroke="#000" stroke-width="4.5"/>
<rect x="1391.25" y="439.25" width="82.50" height="130.50" fill="#fff" stroke="#000" stroke-width="4.5"/>
<text transform="translate(536.90 1194.30) scale(0.9250 1)" x="-4.10" y="0" font-size="100" font-weight="bold" fill="#000">C</text>
<text transform="translate(1061.00 586.00) scale(0.9540 1)" x="-6.69" y="0" font-size="100" font-weight="bold" fill="#000">B</text>
<text transform="translate(1405.90 531.00) scale(0.9930 1)" x="-2.49" y="0" font-size="100" font-weight="bold" fill="#000">A</text>
<polygon fill="#ff0000" points="545.0,860.1 546.6,1034.1 541.6,1034.1 552.5,1072.0 562.6,1033.9 557.6,1033.9 556.0,859.9"/>
<polygon fill="#ff0000" points="1074.4,215.0 1073.3,432.0 1068.1,432.0 1078.4,470.0 1089.1,432.0 1083.8,432.0 1084.8,215.0"/>
<polygon fill="#0000ff" points="1378.9,624.0 1185.9,625.9 1185.9,621.4 1148.0,632.3 1186.1,642.4 1186.1,637.9 1379.1,636.0"/>
<text transform="translate(955.80 180.00)" x="-6.40 42.41 80.00 113.80 136.31 173.90 211.49 245.29" y="0" font-size="78" font-weight="normal" fill="#ff0000">Decrease</text>
<text transform="translate(579.00 835.80) rotate(-90)" x="-6.40 43.11 81.24 115.52 138.35 176.48 214.61 248.89" y="0" font-size="78" font-weight="normal" fill="#ff0000">Decrease</text>
<text transform="translate(1277.20 600.70) rotate(-90)" x="-6.23 39.20 54.34 92.22 130.11 149.03 183.09 220.98 236.12 255.04" y="0" font-size="76" font-weight="normal" fill="#0000ff">Blue shift</text>
<g shape-rendering="crispEdges">
<rect x="1489" y="107" width="165" height="11" fill="#000"/>
<rect x="1489" y="195" width="165" height="11" fill="#ff0000"/>
<rect x="1489" y="282" width="165" height="12" fill="#00ff00"/>
<rect x="1489" y="370" width="165" height="11" fill="#0000ff"/>
</g>
<text transform="translate(1666.20 134.00) scale(0.9600 1)" x="-1.76 42.33 76.29 96.62 133.91 167.87 205.16 242.45" y="0" font-size="70.5" font-weight="bold" fill="#000">As-depo.</text>
<text transform="translate(1670.80 221.00) scale(0.9400 1)" x="-4.54 29.09 62.71 96.33 120.50" y="0 0 0 -5.5 0" font-size="72" font-weight="bold" fill="#000">100°C</text>
<text transform="translate(1667.50 308.50) scale(0.9400 1)" x="-1.65 32.14 65.93 99.72 124.02" y="0 0 0 -5.5 0" font-size="72" font-weight="bold" fill="#000">300°C</text>
<text transform="translate(1666.90 396.00) scale(0.9400 1)" x="-1.09 32.72 66.53 100.34 124.65" y="0 0 0 -5.5 0" font-size="72" font-weight="bold" fill="#000">400°C</text>
<text transform="translate(218.00 1466.00) scale(0.9200 1)" x="-114.23 -82.13 -66.10 -34.00" y="0" font-size="66" font-weight="bold" fill="#000">0.00</text>
<text transform="translate(218.00 1235.17) scale(0.9200 1)" x="-115.10 -83.00 -66.97 -34.87" y="0" font-size="66" font-weight="bold" fill="#000">0.05</text>
<text transform="translate(218.00 1004.33) scale(0.9200 1)" x="-114.23 -82.13 -66.10 -34.00" y="0" font-size="66" font-weight="bold" fill="#000">0.10</text>
<text transform="translate(218.00 773.50) scale(0.9200 1)" x="-115.10 -83.00 -66.97 -34.87" y="0" font-size="66" font-weight="bold" fill="#000">0.15</text>
<text transform="translate(218.00 542.67) scale(0.9200 1)" x="-114.23 -82.13 -66.10 -34.00" y="0" font-size="66" font-weight="bold" fill="#000">0.20</text>
<text transform="translate(218.00 311.83) scale(0.9200 1)" x="-115.10 -83.00 -66.97 -34.87" y="0" font-size="66" font-weight="bold" fill="#000">0.25</text>
<text transform="translate(218.00 81.00) scale(0.9200 1)" x="-114.23 -82.13 -66.10 -34.00" y="0" font-size="66" font-weight="bold" fill="#000">0.30</text>
<text transform="translate(263.70 1541.00) scale(0.9200 1)" x="-49.60 -17.50 14.60" y="0" font-size="66" font-weight="bold" fill="#000">400</text>
<text transform="translate(595.80 1541.00) scale(0.9200 1)" x="-50.11 -18.01 14.09" y="0" font-size="66" font-weight="bold" fill="#000">500</text>
<text transform="translate(927.90 1541.00) scale(0.9200 1)" x="-50.31 -18.21 13.89" y="0" font-size="66" font-weight="bold" fill="#000">600</text>
<text transform="translate(1260.00 1541.00) scale(0.9200 1)" x="-50.52 -18.42 13.68" y="0" font-size="66" font-weight="bold" fill="#000">700</text>
<text transform="translate(1592.10 1541.00) scale(0.9200 1)" x="-50.15 -18.05 14.05" y="0" font-size="66" font-weight="bold" fill="#000">800</text>
<text transform="translate(1924.20 1541.00) scale(0.9200 1)" x="-50.24 -18.14 13.96" y="0" font-size="66" font-weight="bold" fill="#000">900</text>
<text transform="translate(857.00 1645.00) scale(0.9700 1)" x="-0.07 57.00 90.63 124.26 157.88 174.68 208.31 245.24 282.18 302.31 339.25 356.05 376.18 413.11 466.88" y="0" font-size="70" font-weight="bold" fill="#000">Wavelength (nm)</text>
<text transform="translate(67.00 956.70) rotate(-90) scale(0.9800 1)" x="-1.72 42.04 79.05 112.75 149.76 173.34 210.35 230.53 247.36 284.38" y="0" font-size="69" font-weight="bold" fill="#000">Absorption</text>
</svg>
</body>
</html>
